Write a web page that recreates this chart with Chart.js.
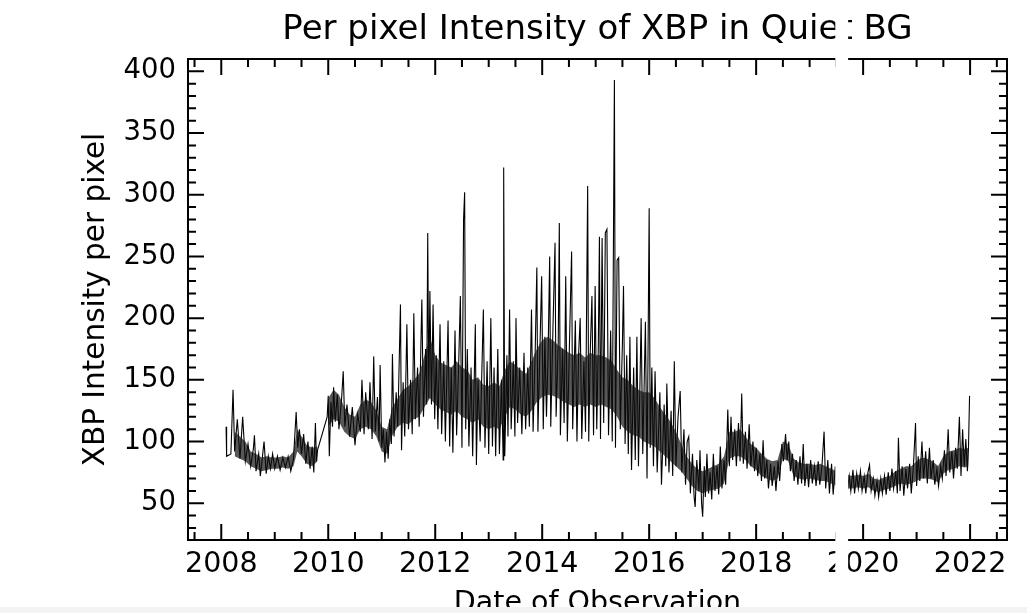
<!DOCTYPE html>
<html>
<head>
<meta charset="utf-8">
<title>Per pixel Intensity of XBP in Quiet BG</title>
<script src="https://cdn.jsdelivr.net/npm/chart.js@4.4.1/dist/chart.umd.min.js"></script>
<style>
  html, body { margin: 0; padding: 0; background: #f3f3f3; }
  canvas { display: block; background: #fff; }
</style>
</head>
<body>
<canvas id="mycanvas" width="1027" height="607"></canvas>
<script>
// observation dates (decimal years), one line per year
var obsDates = [
	2008.09, 2008.10, 2008.18, 2008.22, 2008.25, 2008.30, 2008.35, 2008.40, 2008.45, 2008.50, 2008.55, 2008.60, 2008.62, 2008.65, 2008.70, 2008.73, 2008.77, 2008.80, 2008.84, 2008.88, 2008.92, 2008.96,
	2009.00, 2009.05, 2009.10, 2009.15, 2009.20, 2009.25, 2009.30, 2009.35, 2009.40, 2009.43, 2009.46, 2009.50, 2009.54, 2009.58, 2009.62, 2009.66, 2009.70, 2009.73, 2009.76, 2009.78, 2009.80,
	2009.98, 2010.00, 2010.02, 2010.05, 2010.08, 2010.10, 2010.13, 2010.17, 2010.20, 2010.25, 2010.28, 2010.31, 2010.35, 2010.40, 2010.45, 2010.50, 2010.55, 2010.60, 2010.63, 2010.67, 2010.70, 2010.75, 2010.78, 2010.82, 2010.85, 2010.88, 2010.92, 2010.95, 2010.97,
	2011.00, 2011.03, 2011.06, 2011.09, 2011.12, 2011.15, 2011.18, 2011.20, 2011.23, 2011.27, 2011.30, 2011.35, 2011.37, 2011.40, 2011.43, 2011.47, 2011.50, 2011.54, 2011.57, 2011.60, 2011.63, 2011.67, 2011.70, 2011.75, 2011.78, 2011.82, 2011.84, 2011.86, 2011.88, 2011.90, 2011.93, 2011.96, 2011.99,
	2012.02, 2012.05, 2012.09, 2012.12, 2012.16, 2012.19, 2012.24, 2012.27, 2012.30, 2012.33, 2012.37, 2012.40, 2012.44, 2012.47, 2012.50, 2012.53, 2012.55, 2012.57, 2012.60, 2012.63, 2012.67, 2012.70, 2012.75, 2012.77, 2012.80, 2012.84, 2012.90, 2012.93, 2012.97,
	2013.00, 2013.04, 2013.07, 2013.10, 2013.13, 2013.17, 2013.20, 2013.24, 2013.27, 2013.28, 2013.30, 2013.34, 2013.36, 2013.39, 2013.42, 2013.46, 2013.49, 2013.51, 2013.54, 2013.58, 2013.62, 2013.66, 2013.69, 2013.73, 2013.76, 2013.80, 2013.83, 2013.87, 2013.90, 2013.92, 2013.96, 2013.99,
	2014.02, 2014.05, 2014.08, 2014.11, 2014.14, 2014.16, 2014.20, 2014.24, 2014.26, 2014.30, 2014.32, 2014.34, 2014.38, 2014.41, 2014.44, 2014.47, 2014.51, 2014.55, 2014.57, 2014.62, 2014.65, 2014.68, 2014.71, 2014.74, 2014.78, 2014.81, 2014.85, 2014.87, 2014.90, 2014.93, 2014.96, 2014.99,
	2015.02, 2015.05, 2015.07, 2015.09, 2015.12, 2015.15, 2015.18, 2015.21, 2015.24, 2015.28, 2015.31, 2015.35, 2015.37, 2015.40, 2015.43, 2015.46, 2015.50, 2015.52, 2015.55, 2015.58, 2015.61, 2015.64, 2015.67, 2015.71, 2015.74, 2015.77, 2015.80, 2015.85, 2015.88, 2015.93, 2015.96,
	2016.00, 2016.02, 2016.05, 2016.08, 2016.11, 2016.15, 2016.20, 2016.23, 2016.28, 2016.31, 2016.33, 2016.37, 2016.41, 2016.44, 2016.47, 2016.50, 2016.54, 2016.58, 2016.61, 2016.65, 2016.68, 2016.71, 2016.74, 2016.77, 2016.81, 2016.84, 2016.86, 2016.89, 2016.93, 2016.95, 2016.98,
	2017.00, 2017.03, 2017.05, 2017.08, 2017.11, 2017.14, 2017.17, 2017.20, 2017.23, 2017.27, 2017.30, 2017.33, 2017.36, 2017.40, 2017.43, 2017.47, 2017.50, 2017.53, 2017.56, 2017.60, 2017.63, 2017.67, 2017.70, 2017.73, 2017.76, 2017.80, 2017.83, 2017.87, 2017.90, 2017.94, 2017.97,
	2018.00, 2018.03, 2018.07, 2018.10, 2018.13, 2018.16, 2018.20, 2018.23, 2018.27, 2018.30, 2018.34, 2018.37, 2018.41, 2018.44, 2018.48, 2018.51, 2018.55, 2018.58, 2018.61, 2018.64, 2018.68, 2018.71, 2018.75, 2018.78, 2018.82, 2018.85, 2018.88, 2018.91, 2018.95, 2018.98,
	2019.02, 2019.05, 2019.09, 2019.12, 2019.16, 2019.19, 2019.23, 2019.27, 2019.30, 2019.34, 2019.37, 2019.41, 2019.44, 2019.48, 2019.52, 2019.56, 2019.60, 2019.65, 2019.70, 2019.74, 2019.77, 2019.81, 2019.84, 2019.88, 2019.91, 2019.95, 2019.98,
	2020.02, 2020.05, 2020.09, 2020.12, 2020.15, 2020.19, 2020.22, 2020.26, 2020.29, 2020.33, 2020.36, 2020.40, 2020.43, 2020.47, 2020.50, 2020.54, 2020.57, 2020.61, 2020.64, 2020.66, 2020.69, 2020.73, 2020.76, 2020.80, 2020.83, 2020.87, 2020.90, 2020.94, 2020.98,
	2021.00, 2021.03, 2021.06, 2021.10, 2021.13, 2021.17, 2021.20, 2021.24, 2021.27, 2021.31, 2021.34, 2021.38, 2021.41, 2021.45, 2021.48, 2021.52, 2021.55, 2021.59, 2021.62, 2021.66, 2021.69, 2021.73, 2021.76, 2021.80, 2021.83, 2021.86, 2021.89, 2021.92, 2021.95, 2021.97, 2021.99
];

// XBP intensity per pixel, same layout as obsDates
var xbpIntensity = [
	112, 88, 90, 142, 92, 118, 86, 120, 84, 98, 80, 94, 105, 76, 90, 72, 88, 100, 74, 88, 78, 90,
	78, 88, 77, 87, 79, 88, 76, 86, 124, 95, 110, 90, 106, 82, 100, 78, 96, 75, 115, 84, 93,
	120, 137, 88, 132, 112, 144, 116, 138, 110, 135, 157, 112, 130, 104, 128, 97, 122, 108, 150, 106, 140, 110, 148, 102, 169, 108, 136, 100, 162,
	95, 110, 83, 108, 86, 118, 98, 171, 104, 140, 112, 211, 93, 148, 104, 195, 110, 150, 106, 204, 118, 160, 112, 215, 120, 175, 130, 269, 135, 222, 130, 211, 118,
	170, 110, 195, 106, 165, 100, 198, 96, 160, 91, 190, 105, 165, 218, 95, 280, 302, 110, 175, 96, 160, 88, 195, 81, 150, 100, 207, 95, 165,
	90, 200, 96, 160, 88, 175, 90, 150, 85, 322, 88, 170, 104, 207, 110, 165, 104, 200, 115, 160, 106, 172, 110, 160, 112, 207, 108, 175, 241, 108, 180, 234,
	110, 185, 120, 170, 250, 112, 190, 261, 120, 180, 277, 105, 175, 115, 234, 100, 180, 254, 110, 198, 100, 170, 200, 102, 165, 108, 307, 100, 175, 218, 105, 226,
	110, 180, 266, 102, 265, 115, 269, 272, 105, 190, 100, 393, 95, 247, 249, 110, 180, 226, 98, 170, 90, 185, 77, 160, 85, 185, 80, 200, 90, 197, 70,
	289, 95, 160, 80, 157, 75, 140, 65, 130, 80, 147, 75, 125, 72, 165, 80, 120, 141, 75, 110, 65, 100, 104, 58, 90, 55, 47, 85, 60, 93, 50,
	39, 80, 55, 90, 58, 75, 53, 90, 60, 80, 57, 96, 62, 85, 65, 126, 80, 120, 85, 110, 80, 115, 84, 139, 82, 108, 78, 114, 80, 100, 76,
	95, 72, 90, 68, 101, 70, 85, 62, 82, 64, 80, 60, 84, 68, 98, 84, 106, 85, 100, 76, 90, 68, 85, 65, 88, 66, 98, 64, 82, 63,
	85, 66, 80, 64, 84, 65, 80, 108, 62, 85, 58, 82, 57, 80, 62, 78, 60, 76, 58, 72, 60, 77, 58, 74, 62, 76, 60,
	72, 58, 75, 81, 60, 70, 56, 68, 55, 70, 58, 72, 57, 75, 60, 78, 62, 76, 58, 103, 60, 80, 56, 78, 62, 82, 58, 80, 115,
	64, 88, 68, 100, 70, 92, 66, 95, 70, 85, 65, 78, 64, 80, 70, 93, 72, 110, 75, 92, 70, 95, 78, 120, 72, 110, 80, 102, 76, 95, 137
];

// dense core of the daily scatter (where the trace is solid black)
var coreDates = [
	2008.25, 2008.35, 2008.45, 2008.55, 2008.65, 2008.75, 2008.85, 2008.95,
	2009.05, 2009.15, 2009.25, 2009.35, 2009.42, 2009.50, 2009.60, 2009.70, 2009.80, 2009.90,
	2010.00, 2010.10, 2010.20, 2010.30, 2010.40, 2010.50, 2010.60, 2010.70, 2010.80, 2010.90,
	2011.00, 2011.10, 2011.20, 2011.30, 2011.40, 2011.50, 2011.60, 2011.70, 2011.80, 2011.90,
	2012.00, 2012.10, 2012.20, 2012.30, 2012.40, 2012.50, 2012.60, 2012.70, 2012.80, 2012.90,
	2013.00, 2013.10, 2013.20, 2013.30, 2013.40, 2013.50, 2013.60, 2013.70, 2013.80, 2013.90,
	2014.00, 2014.10, 2014.20, 2014.30, 2014.40, 2014.50, 2014.60, 2014.70, 2014.80, 2014.90,
	2015.00, 2015.10, 2015.20, 2015.30, 2015.40, 2015.50, 2015.60, 2015.70, 2015.80, 2015.90,
	2016.00, 2016.10, 2016.20, 2016.30, 2016.40, 2016.50, 2016.60, 2016.70, 2016.80, 2016.90,
	2017.00, 2017.10, 2017.20, 2017.30, 2017.40, 2017.50, 2017.60, 2017.70, 2017.80, 2017.90,
	2018.00, 2018.10, 2018.20, 2018.30, 2018.40, 2018.50, 2018.60, 2018.70, 2018.80, 2018.90,
	2019.00, 2019.10, 2019.20, 2019.30, 2019.40, 2019.50, 2019.60, 2019.70, 2019.80, 2019.90,
	2020.00, 2020.10, 2020.20, 2020.30, 2020.40, 2020.50, 2020.60, 2020.70, 2020.80, 2020.90,
	2021.00, 2021.10, 2021.20, 2021.30, 2021.40, 2021.50, 2021.60, 2021.70, 2021.80, 2021.90, 2021.97
];
var coreLow = [
	88, 86, 84, 80, 78, 76, 77, 78,
	78, 79, 78, 80, 92, 88, 82, 80, 84, null,
	112, 118, 116, 108, 104, 102, 110, 112, 110, 104,
	92, 90, 105, 112, 115, 114, 118, 120, 128, 135,
	130, 126, 124, 122, 125, 120, 118, 115, 118, 112,
	110, 112, 110, 120, 128, 126, 122, 120, 125, 132,
	136, 138, 137, 135, 132, 130, 128, 130, 128, 130,
	128, 130, 128, 126, 120, 112, 108, 105, 104, 100,
	98, 96, 92, 88, 84, 80, 76, 70, 64, 60,
	58, 60, 61, 62, 66, 86, 88, 88, 85, 80,
	77, 72, 70, 68, 70, 86, 84, 72, 70, 69,
	70, 69, 68, 68, 66, 64, 63, 62, 62, 63,
	62, 63, 60, 59, 61, 62, 64, 66, 65, 66,
	68, 70, 70, 69, 67, 74, 77, 78, 80, 79, 80
];
var coreHigh = [
	108, 104, 100, 92, 90, 87, 88, 87,
	87, 88, 87, 92, 110, 104, 97, 95, 96, null,
	135, 142, 138, 128, 122, 120, 130, 134, 132, 125,
	112, 110, 128, 135, 142, 145, 150, 155, 170, 185,
	170, 164, 162, 160, 165, 160, 158, 150, 152, 146,
	145, 148, 145, 158, 165, 162, 158, 155, 165, 175,
	182, 185, 182, 178, 175, 172, 170, 172, 168, 172,
	170, 170, 168, 165, 158, 152, 150, 145, 142, 140,
	140, 135, 128, 122, 116, 108, 98, 88, 82, 78,
	76, 78, 80, 82, 88, 108, 108, 110, 104, 98,
	95, 90, 86, 84, 85, 100, 98, 86, 83, 82,
	82, 81, 82, 80, 78, 76, 74, 73, 72, 73,
	72, 74, 70, 69, 71, 72, 76, 78, 80, 80,
	84, 87, 86, 84, 80, 88, 92, 93, 95, 94, 95
];

var xTickYears = [2008, 2010, 2012, 2014, 2016, 2018, 2020, 2022];
var yTickValues = [50, 100, 150, 200, 250, 300, 350, 400];
var xRange = [2007.378, 2022.69];
var yRange = [20.2, 410];
var maskSpan = [2019.48, 2019.72]; // white strip over the picture

var font = 'DejaVu Sans';

// frame and inward ticks on all four sides, like the matplotlib original
var frameTicks = {
	id: 'frameTicks',
	afterDatasetsDraw: function(chart) {
		var c = chart.ctx, a = chart.chartArea, x = chart.scales.x, y = chart.scales.y;
		var v, px, py, len;
		c.save();
		c.strokeStyle = '#000';
		c.lineWidth = 2;
		c.beginPath();
		for (v = 2007.5; v <= 2022.6; v += 0.5) {
			len = (v % 2 === 0) ? 16 : 8;
			px = x.getPixelForValue(v);
			c.moveTo(px, a.bottom); c.lineTo(px, a.bottom - len);
			c.moveTo(px, a.top); c.lineTo(px, a.top + len);
		}
		for (v = 30; v <= 410; v += 10) {
			len = (v % 50 === 0) ? 16 : 8;
			py = y.getPixelForValue(v);
			c.moveTo(a.left, py); c.lineTo(a.left + len, py);
			c.moveTo(a.right, py); c.lineTo(a.right - len, py);
		}
		c.stroke();
		c.strokeRect(a.left, a.top, a.right - a.left, a.bottom - a.top);
		c.restore();
	}
};

var maskBand = {
	id: 'maskBand',
	afterDraw: function(chart) {
		var x = chart.scales.x;
		var x1 = x.getPixelForValue(maskSpan[0]), x2 = x.getPixelForValue(maskSpan[1]);
		chart.ctx.save();
		chart.ctx.fillStyle = '#fff';
		chart.ctx.fillRect(x1, 0, x2 - x1, chart.height);
		chart.ctx.restore();
	}
};

var points = [];
for (var i in obsDates) {
	points.push({x: obsDates[i], y: xbpIntensity[i]});
}
var lowPts = [], highPts = [];
for (var j in coreDates) {
	lowPts.push({x: coreDates[j], y: coreLow[j]});
	highPts.push({x: coreDates[j], y: coreHigh[j]});
}

var ctx = document.getElementById('mycanvas');

var lineGraph = new Chart(ctx, {
	type: 'line',
	data: {
		datasets: [
			{
				label: 'core low',
				data: lowPts,
				borderWidth: 0,
				pointRadius: 0,
				fill: false,
				tension: 0
			},
			{
				label: 'core high',
				data: highPts,
				borderWidth: 0,
				backgroundColor: 'rgba(15,15,15,0.7)',
				pointRadius: 0,
				fill: '-1',
				tension: 0
			},
			{
				label: 'XBP',
				data: points,
				borderColor: '#000',
				borderWidth: 1.1,
				pointRadius: 0,
				fill: false,
				tension: 0
			}
		]
	},
	options: {
		responsive: false,
		animation: false,
		devicePixelRatio: 1,
		layout: { padding: { left: 0, right: 20, top: 0, bottom: 0 } },
		plugins: {
			legend: { display: false },
			tooltip: { enabled: false },
			title: {
				display: true,
				fullSize: false,
				text: 'Per pixel Intensity of XBP in Quiet BG',
				color: '#000',
				font: { family: font, size: 34, weight: 'normal', lineHeight: 1.2 },
				padding: { top: 10, bottom: 8.2 }
			}
		},
		scales: {
			x: {
				type: 'linear',
				min: xRange[0],
				max: xRange[1],
				grid: { display: false, drawTicks: false },
				border: { display: false },
				afterBuildTicks: function(s) { s.ticks = xTickYears.map(function(v) { return {value: v}; }); },
				afterFit: function(s) { s.height = 67; },
				ticks: {
					color: '#000',
					font: { family: font, size: 28.5 },
					padding: 7,
					maxRotation: 0,
					autoSkip: false,
					callback: function(v) { return String(v); }
				},
				title: {
					display: true,
					text: 'Date of Observation',
					color: '#000',
					font: { family: font, size: 28.5 },
					padding: { top: 0, bottom: -14 }
				}
			},
			y: {
				type: 'linear',
				min: yRange[0],
				max: yRange[1],
				grid: { display: false, drawTicks: false },
				border: { display: false },
				afterBuildTicks: function(s) { s.ticks = yTickValues.map(function(v) { return {value: v}; }); },
				afterFit: function(s) { s.width = 188; },
				ticks: {
					color: '#000',
					font: { family: font, size: 27.5 },
					padding: 12,
					callback: function(v) { return String(v); }
				},
				title: {
					display: true,
					text: 'XBP Intensity per pixel',
					color: '#000',
					font: { family: font, size: 29.5 },
					padding: { top: 79, bottom: 0 }
				}
			}
		}
	},
	plugins: [frameTicks, maskBand]
});
</script>
</body>
</html>
